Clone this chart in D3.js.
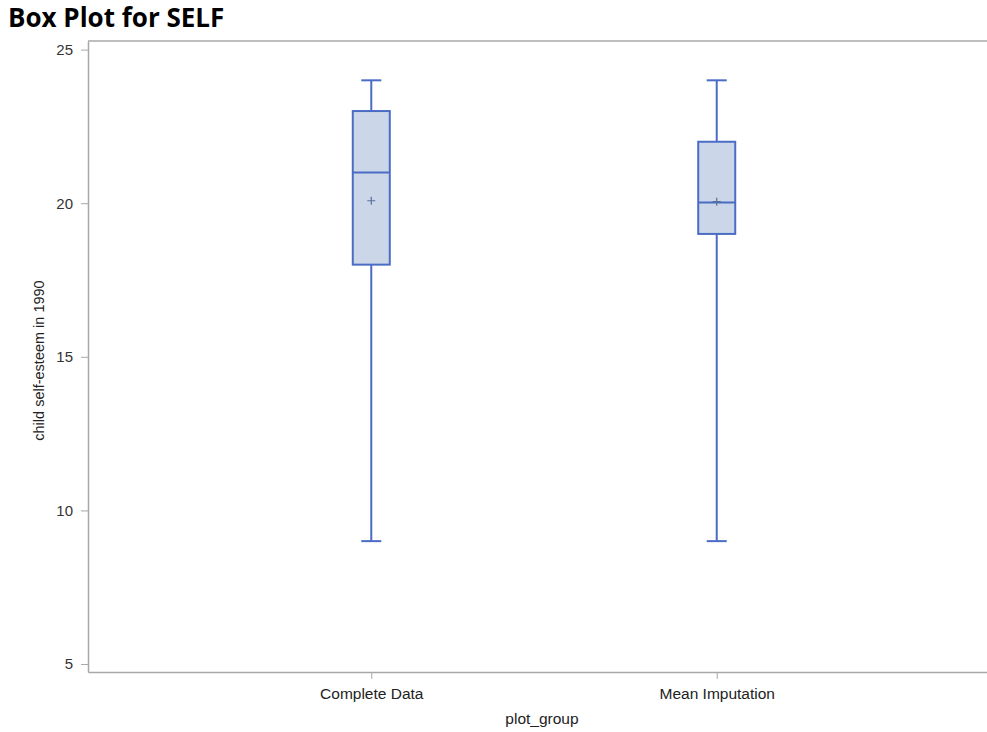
<!DOCTYPE html>
<html lang="en">
<head>
  <meta charset="UTF-8">
  <title>Box Plot for SELF</title>
  <script src="https://d3js.org/d3.v7.min.js"></script>
  <style>
    * { margin: 0; padding: 0; box-sizing: border-box; }
    body { background: #fff; font-family: "Liberation Sans", Arial, sans-serif; }
  </style>
</head>
<body>
  <div id="chart"></div>
  <script>
    // data
    const groups = ["Complete Data", "Mean Imputation"];
    const mins = [9, 9];
    const q1s = [18, 19];
    const medians = [21, 20.02];
    const q3s = [23, 22];
    const maxs = [24, 24];
    const means = [20.08, 20.05];
    const yTicks = [5, 10, 15, 20, 25];

    const data = groups.map((g, i) => ({
      group: g, min: mins[i], q1: q1s[i], median: medians[i],
      q3: q3s[i], max: maxs[i], mean: means[i]
    }));

    const W = 987, H = 732;
    const margin = {top: 41, right: -13, bottom: 60, left: 88};
    const width = W - margin.left - margin.right,
          height = H - margin.top - margin.bottom;

    const svg = d3.select("#chart").append("svg")
      .attr("width", W).attr("height", H);

    svg.append("text")
      .attr("x", 8).attr("y", 27)
      .style("font-family", "'Open Sans', Lato, sans-serif")
      .style("font-weight", "bold")
      .style("font-size", "26px")
      .attr("fill", "#000")
      .text("Box Plot for SELF");

    const g = svg.append("g")
      .attr("transform", `translate(${margin.left},${margin.top})`);

    const x = d3.scalePoint()
      .domain(groups)
      .range([0, width])
      .padding(0.82);

    const y = d3.scaleLinear()
      .domain([4.74, 25.28])
      .range([height, 0]);

    const axisColor = "#a8a8a8";
    const labelFont = "'Liberation Sans', Arial, sans-serif";

    // frame (top, left, bottom)
    g.append("line").attr("x1", 0).attr("x2", width).attr("y1", 0).attr("y2", 0)
      .attr("stroke", axisColor).attr("stroke-width", 1.5);

    const yAxis = g.append("g")
      .call(d3.axisLeft(y).tickValues(yTicks).tickSize(7).tickPadding(8).tickSizeOuter(0));
    yAxis.select(".domain").attr("stroke", axisColor).attr("stroke-width", 1.5);
    yAxis.selectAll(".tick line").attr("stroke", axisColor);
    yAxis.selectAll(".tick text")
      .attr("fill", "#333").style("font-size", "15px")
      .style("font-family", labelFont);

    const xAxis = g.append("g")
      .attr("transform", `translate(0,${height})`)
      .call(d3.axisBottom(x).tickSize(7).tickPadding(9).tickSizeOuter(0));
    xAxis.select(".domain").attr("stroke", axisColor).attr("stroke-width", 1.5);
    xAxis.selectAll(".tick line").attr("stroke", axisColor);
    xAxis.selectAll(".tick text")
      .attr("fill", "#222").style("font-size", "15.5px")
      .style("font-family", labelFont);

    svg.append("text")
      .attr("transform", `translate(44,${margin.top + height / 2 + 4}) rotate(-90)`)
      .attr("text-anchor", "middle")
      .attr("fill", "#222")
      .style("font-size", "14.5px")
      .style("font-family", labelFont)
      .text("child self-esteem in 1990");

    svg.append("text")
      .attr("x", 542).attr("y", 724)
      .attr("text-anchor", "middle")
      .attr("fill", "#222")
      .style("font-size", "15.5px")
      .style("font-family", labelFont)
      .text("plot_group");

    const boxColor = "#4a6cc4", boxFill = "#cbd7e8";
    const boxW = 37, capW = 20;

    const boxes = g.selectAll(".box")
      .data(data).enter().append("g")
      .attr("class", "box")
      .attr("transform", d => `translate(${x(d.group)},0)`);

    // whiskers
    boxes.append("line")
      .attr("x1", 0).attr("x2", 0)
      .attr("y1", d => y(d.max)).attr("y2", d => y(d.q3))
      .attr("stroke", boxColor).attr("stroke-width", 2);
    boxes.append("line")
      .attr("x1", 0).attr("x2", 0)
      .attr("y1", d => y(d.q1)).attr("y2", d => y(d.min))
      .attr("stroke", boxColor).attr("stroke-width", 2);
    boxes.append("line")
      .attr("x1", -capW / 2).attr("x2", capW / 2)
      .attr("y1", d => y(d.max)).attr("y2", d => y(d.max))
      .attr("stroke", boxColor).attr("stroke-width", 2);
    boxes.append("line")
      .attr("x1", -capW / 2).attr("x2", capW / 2)
      .attr("y1", d => y(d.min)).attr("y2", d => y(d.min))
      .attr("stroke", boxColor).attr("stroke-width", 2);

    // box
    boxes.append("rect")
      .attr("x", -boxW / 2).attr("width", boxW)
      .attr("y", d => y(d.q3))
      .attr("height", d => y(d.q1) - y(d.q3))
      .attr("fill", boxFill)
      .attr("stroke", boxColor).attr("stroke-width", 2);

    // median
    boxes.append("line")
      .attr("x1", -boxW / 2).attr("x2", boxW / 2)
      .attr("y1", d => y(d.median)).attr("y2", d => y(d.median))
      .attr("stroke", boxColor).attr("stroke-width", 2);

    // mean marker (+)
    boxes.append("path")
      .attr("d", d => `M-4,${y(d.mean)}H4M0,${y(d.mean) - 4}V${y(d.mean) + 4}`)
      .attr("stroke", "#5a6e9a").attr("stroke-width", 1.2)
      .attr("fill", "none");
  </script>
</body>
</html>
